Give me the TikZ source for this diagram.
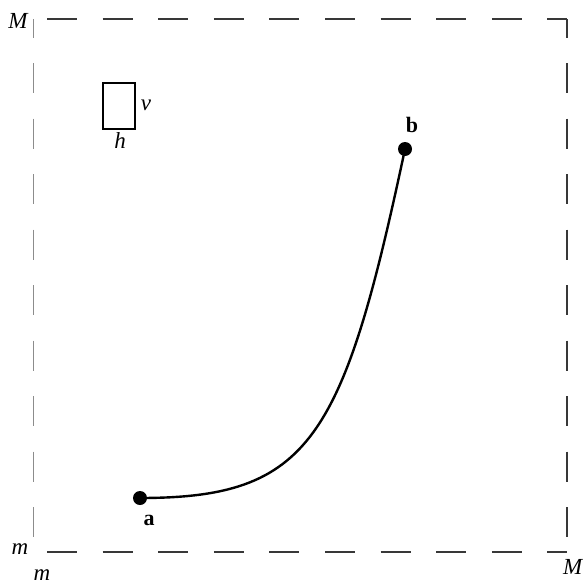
\documentclass[tikz,border=0pt]{standalone}
\usepackage{fontspec}
\setmainfont{Liberation Serif}
\begin{document}
\begin{tikzpicture}[x=1pt,y=-1pt,
  frameline/.style={draw=black!78,line width=2pt,dash pattern=on 30pt off 25.6pt},
  leftline/.style={draw=black!45,line width=1pt,dash pattern=on 30pt off 25.5pt},
  lab/.style={inner sep=0pt,font=\fontsize{23}{26}\selectfont\itshape},
  blab/.style={inner sep=0pt,font=\fontsize{22}{25}\selectfont\bfseries},
  dot/.style={circle,fill=black,inner sep=0pt,minimum size=14pt}]
\useasboundingbox (0,0) rectangle (583,584);
% frame
\coordinate (tl) at (33,19);
\coordinate (tr) at (567,19);
\coordinate (bl) at (33,552);
\coordinate (br) at (567,552);
\draw[frameline,dash phase=41.6pt] (tl) -- (tr);
\draw[frameline,dash phase=41.6pt] (bl) -- (br);
\draw[frameline,dash pattern=on 30pt off 25.5pt,dash phase=11.5pt] (tr) -- (br);
\draw[leftline,dash phase=11.5pt] (tl) -- (bl);
% corner labels
\node[lab] (M1) at (18,21) {M};
\node[lab] (m1) at (20,549) {m};
\node[lab] (m2) at (42,575) {m};
\node[lab,anchor=east] (M2) at (582.5,567) {M};
% small box
\node[draw=black,line width=2pt,minimum width=32pt,minimum height=46pt,inner sep=0pt] (box) at (118.5,106) {};
\node[lab] (v) at (146,105) {v};
\node[lab] (h) at (120,141) {h};
% points and curve
\node[dot] (a) at (140,498) {};
\node[dot] (b) at (405,149) {};
\draw[line width=2.4pt] (a.center) .. controls (310,498) and (343,440) .. (b.center);
\node[blab] (la) at (149,520) {a};
\node[blab] (lb) at (412,125) {b};
\end{tikzpicture}
\end{document}
